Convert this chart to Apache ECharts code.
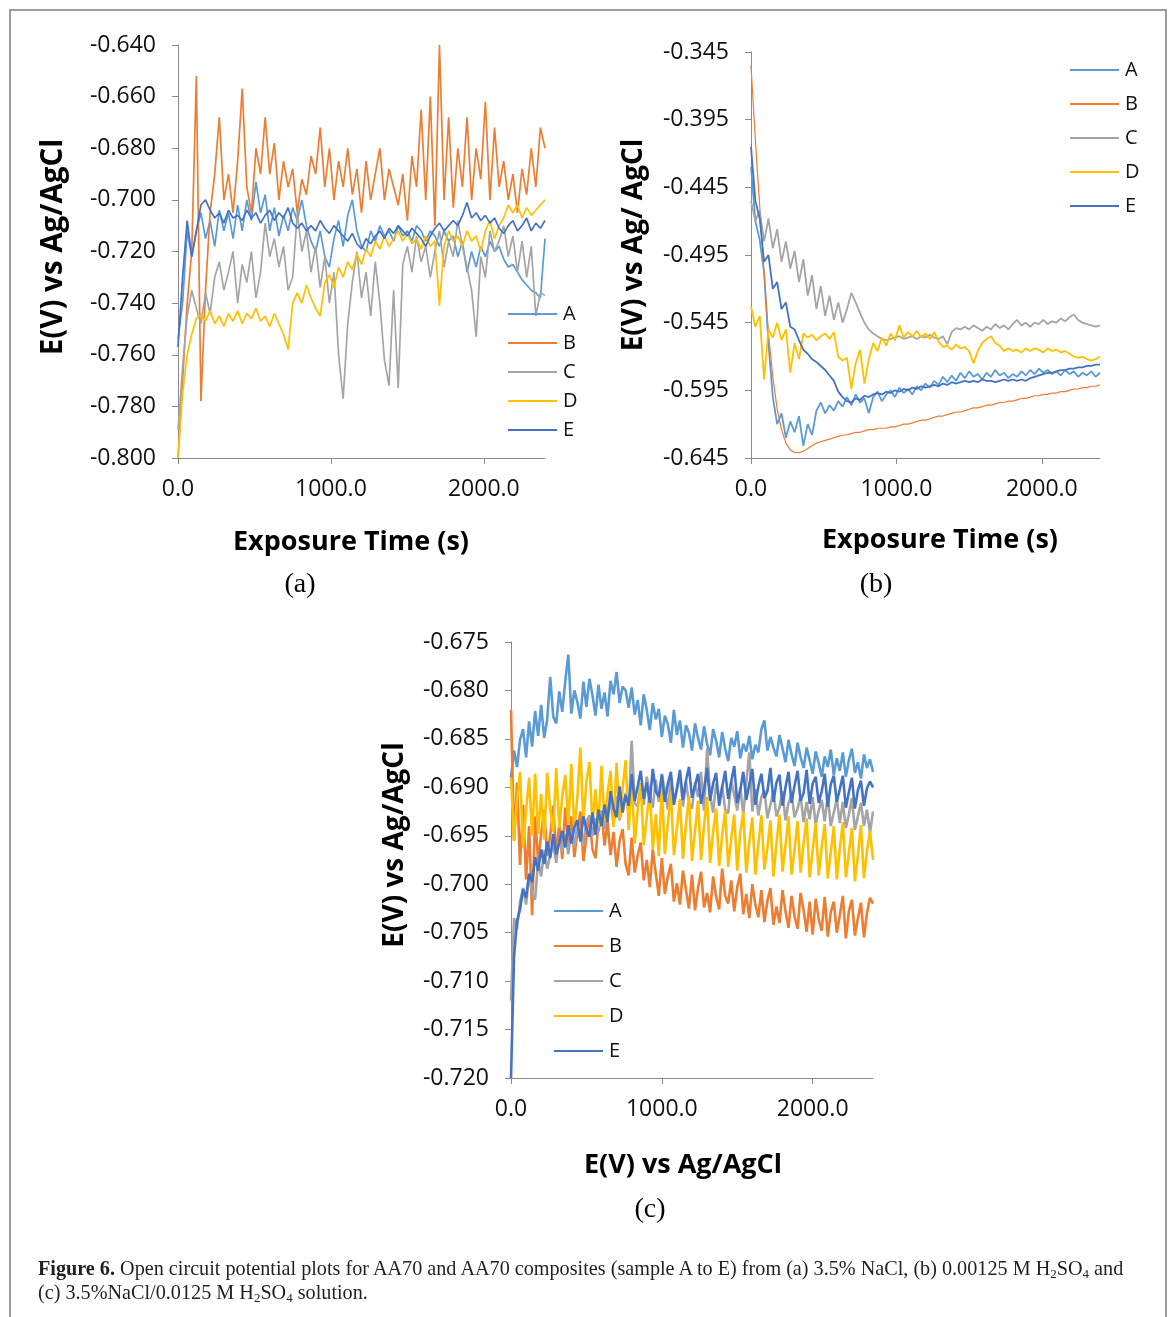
<!DOCTYPE html>
<html>
<head>
<meta charset="utf-8">
<script src="https://cdn.jsdelivr.net/npm/echarts/dist/echarts.min.js"></script>
<style>
html,body{margin:0;padding:0;background:#fff;}
#wrap{position:relative;width:1173px;height:1317px;overflow:hidden;background:#fff;}
#chart{position:absolute;left:0;top:0;width:1173px;height:1317px;}
#frame{position:absolute;left:9px;top:9px;width:1154px;height:1330px;border:2px solid #9d9d9d;border-bottom:none;pointer-events:none;}
#caption{position:absolute;left:38px;top:1256px;font-family:"Liberation Serif",serif;font-size:20.2px;line-height:24px;color:#231f20;white-space:nowrap;}
#caption sub{font-size:13px;vertical-align:-3px;line-height:0;}
</style>
</head>
<body>
<div id="wrap">
  <div id="chart"></div>
  <div id="frame"></div>
  <div id="caption"><b>Figure 6.</b> Open circuit potential plots for AA70 and AA70 composites (sample A to E) from (a) 3.5% NaCl, (b) 0.00125 M H<sub>2</sub>SO<sub>4</sub> and<br>(c) 3.5%NaCl/0.0125 M H<sub>2</sub>SO<sub>4</sub> solution.</div>
</div>
<script>
// ---------------- DATA (potentials in mV vs Ag/AgCl) ----------------
const sampleNames = ['A', 'B', 'C', 'D', 'E'];
const xTickValues = [0, 1000, 2000];          // exposure time ticks (s)
const yTicksNaCl = [-800, -780, -760, -740, -720, -700, -680, -660, -640];
const yTicksH2SO4 = [-645, -595, -545, -495, -445, -395, -345];
const yTicksMix = [-720, -715, -710, -705, -700, -695, -690, -685, -680, -675];

// (a) 3.5% NaCl, one reading every 30 s from 0 to 2400 s
const stepNaCl = 30;
const naclA = [
  -754,-740,-712,-722,-712,-705,-715,-708,-718,-704,
  -712,-705,-715,-702,-712,-700,-708,-693,-705,-698,
  -712,-703,-714,-706,-712,-703,-708,-700,-710,-716,
  -720,-712,-722,-726,-715,-708,-718,-706,-700,-712,
  -718,-720,-712,-716,-710,-714,-712,-716,-710,-714,
  -712,-716,-710,-712,-716,-712,-714,-718,-712,-716,
  -714,-722,-716,-728,-720,-726,-718,-722,-716,-720,
  -718,-723,-726,-725,-728,-731,-733,-735,-736,-738,
  -715];
const naclB = [
  -800,-770,-740,-720,-652,-778,-735,-705,-690,-668,
  -700,-690,-705,-685,-657,-695,-705,-680,-690,-668,
  -690,-678,-700,-685,-695,-688,-705,-692,-698,-683,
  -690,-672,-695,-680,-700,-685,-695,-680,-698,-688,
  -705,-685,-700,-690,-680,-700,-688,-695,-702,-690,
  -708,-683,-695,-665,-700,-660,-710,-640,-700,-668,
  -703,-680,-695,-668,-700,-680,-692,-662,-700,-672,
  -695,-685,-700,-690,-705,-688,-698,-680,-695,-672,
  -680];
const naclC = [
  -789,-765,-745,-735,-742,-748,-736,-744,-730,-724,
  -735,-728,-720,-740,-725,-732,-720,-738,-728,-709,
  -722,-715,-726,-718,-735,-730,-705,-720,-712,-728,
  -718,-734,-722,-740,-728,-760,-777,-748,-732,-720,
  -738,-728,-745,-724,-740,-762,-772,-735,-773,-725,
  -718,-728,-714,-724,-718,-730,-720,-712,-726,-716,
  -722,-708,-718,-726,-735,-753,-722,-730,-712,-720,
  -716,-710,-722,-714,-728,-716,-730,-718,-745,-736,
  -737];
const naclD = [
  -800,-775,-760,-752,-746,-744,-747,-743,-748,-745,
  -749,-744,-747,-743,-748,-744,-746,-742,-747,-745,
  -749,-744,-748,-752,-758,-740,-736,-740,-733,-738,
  -742,-745,-732,-729,-734,-726,-730,-724,-727,-721,
  -725,-719,-722,-716,-719,-714,-718,-715,-712,-716,
  -713,-717,-715,-719,-714,-718,-716,-741,-718,-712,
  -716,-714,-718,-712,-716,-714,-720,-712,-708,-715,
  -710,-707,-702,-705,-702,-707,-703,-706,-704,-702,
  -700];
const naclE = [
  -757,-730,-708,-722,-712,-702,-700,-704,-707,-705,
  -709,-704,-707,-706,-708,-704,-707,-705,-709,-706,
  -704,-708,-705,-707,-703,-709,-711,-709,-712,-710,
  -712,-708,-711,-713,-710,-712,-714,-716,-713,-717,
  -719,-715,-717,-714,-712,-715,-711,-713,-710,-712,
  -714,-711,-713,-715,-718,-714,-711,-709,-712,-710,
  -708,-710,-706,-701,-707,-705,-708,-706,-709,-707,
  -711,-713,-710,-708,-712,-710,-707,-712,-709,-711,
  -708];

// (b) 0.00125 M H2SO4, one reading every 30 s from 0 to 2400 s
const stepH2SO4 = 30;
const h2so4A = [
  -430,-470,-484,-508,-560,-600,-620,-612,-630,-618,
  -626,-614,-636,-620,-628,-610,-604,-612,-606,-610,
  -603,-607,-600,-606,-598,-604,-601,-612,-600,-596,
  -603,-598,-595,-600,-593,-597,-594,-598,-592,-595,
  -590,-593,-588,-591,-585,-589,-584,-588,-582,-586,
  -581,-585,-583,-587,-582,-585,-580,-584,-582,-586,
  -583,-585,-581,-584,-580,-583,-579,-582,-580,-583,
  -581,-584,-580,-583,-581,-585,-582,-584,-581,-585,
  -582];
const h2so4B = [
  -355,-410,-459,-508,-553,-585,-609,-624,-634,-639,
  -641,-641,-640,-638,-636,-634,-633,-632,-631,-630,
  -629,-628,-628,-627,-626,-626,-625,-624,-624,-623,
  -623,-623,-622,-622,-621,-620,-620,-619,-618,-617,
  -617,-616,-615,-614,-614,-613,-612,-611,-611,-610,
  -609,-608,-608,-607,-606,-606,-605,-604,-604,-603,
  -603,-602,-601,-601,-600,-599,-599,-598,-598,-597,
  -597,-596,-596,-595,-594,-594,-593,-593,-592,-592,
  -591];
const h2so4C = [
  -455,-470,-462,-485,-468,-490,-476,-500,-485,-505,
  -492,-515,-498,-525,-510,-535,-518,-540,-525,-543,
  -530,-545,-535,-523,-530,-538,-545,-550,-553,-555,
  -557,-558,-557,-556,-555,-557,-556,-555,-557,-555,
  -556,-554,-556,-557,-555,-561,-552,-549,-550,-548,
  -550,-547,-549,-551,-548,-550,-546,-549,-547,-550,
  -546,-543,-547,-545,-548,-545,-546,-543,-546,-544,
  -545,-542,-544,-541,-539,-543,-545,-546,-547,-548,
  -547];
const h2so4D = [
  -533,-548,-540,-587,-550,-556,-545,-558,-550,-582,
  -560,-572,-553,-556,-554,-558,-555,-553,-557,-552,
  -570,-573,-571,-594,-575,-565,-590,-572,-560,-566,
  -556,-562,-553,-558,-547,-556,-552,-555,-551,-556,
  -553,-557,-552,-559,-563,-562,-565,-561,-564,-563,
  -566,-575,-566,-560,-557,-555,-560,-562,-566,-564,
  -566,-565,-567,-564,-566,-564,-565,-567,-564,-566,
  -565,-567,-566,-568,-570,-571,-570,-572,-573,-572,
  -570];
const h2so4E = [
  -415,-455,-468,-500,-495,-520,-515,-535,-530,-548,
  -550,-558,-565,-568,-572,-574,-577,-580,-584,-588,
  -596,-600,-603,-604,-601,-602,-599,-600,-598,-597,
  -598,-596,-597,-595,-596,-594,-595,-593,-594,-592,
  -593,-592,-591,-592,-590,-591,-589,-590,-589,-588,
  -589,-588,-589,-587,-588,-588,-589,-588,-587,-588,
  -587,-588,-587,-588,-586,-585,-584,-583,-582,-582,
  -581,-580,-580,-579,-579,-578,-578,-577,-577,-576,
  -576];

// (c) 3.5% NaCl / 0.0125 M H2SO4, one reading every 20 s from 0 to 2400 s
const stepMix = 20;
const mixA = [
  -689.0,-686.2,-687.9,-685.1,-684.0,-686.9,-683.2,-685.8,-682.1,-684.7,
  -681.5,-684.9,-683.0,-678.6,-682.7,-683.4,-680.1,-682.2,-679.0,-676.3,
  -682.4,-680.0,-681.2,-682.9,-679.1,-681.7,-678.8,-680.5,-682.6,-679.4,
  -681.9,-680.2,-682.7,-679.0,-680.4,-678.1,-681.3,-679.6,-680.0,-681.8,
  -679.7,-682.5,-681.0,-683.6,-680.4,-682.0,-684.1,-681.3,-683.0,-681.9,
  -684.8,-682.6,-683.5,-685.4,-682.0,-684.6,-683.1,-685.9,-683.6,-684.4,
  -686.2,-683.4,-684.9,-686.1,-683.7,-685.5,-686.7,-684.0,-685.2,-686.9,
  -684.3,-686.0,-687.3,-684.9,-685.8,-684.2,-687.0,-685.5,-686.3,-684.7,
  -687.1,-685.6,-686.4,-684.0,-683.1,-686.2,-684.8,-685.9,-686.8,-684.6,
  -686.0,-687.4,-685.1,-686.6,-687.8,-685.4,-686.9,-688.0,-685.9,-687.2,
  -688.6,-686.3,-687.5,-688.9,-686.8,-687.9,-686.1,-688.7,-687.0,-688.3,
  -686.4,-688.9,-687.2,-686.0,-688.5,-687.4,-689.1,-686.6,-688.0,-687.1,
  -688.4];
const mixB = [
  -682.0,-695.5,-689.5,-698.0,-691.8,-699.5,-694.0,-703.2,-693.0,-697.6,
  -694.8,-692.3,-697.1,-695.0,-691.9,-696.8,-693.8,-697.4,-692.1,-695.9,
  -693.0,-697.2,-694.6,-692.5,-697.6,-695.1,-692.9,-696.4,-697.3,-693.6,
  -692.4,-696.0,-693.6,-697.0,-694.6,-698.2,-695.5,-694.3,-697.9,-699.1,
  -695.2,-698.8,-697.0,-695.7,-699.6,-697.5,-700.3,-696.4,-698.9,-701.2,
  -697.3,-701.0,-699.2,-697.9,-701.8,-699.9,-702.1,-698.6,-700.6,-702.5,
  -699.0,-702.7,-700.4,-698.7,-702.4,-700.9,-702.9,-699.2,-701.3,-702.6,
  -698.4,-701.2,-702.0,-699.6,-702.8,-700.3,-698.9,-703.1,-701.0,-703.5,
  -700.0,-702.1,-703.4,-700.6,-703.9,-701.7,-700.4,-704.2,-702.3,-704.0,
  -700.6,-702.8,-704.5,-701.2,-703.3,-704.6,-700.9,-702.7,-704.9,-701.8,
  -705.2,-701.5,-703.6,-704.8,-701.3,-705.4,-702.9,-701.8,-705.0,-703.2,
  -701.2,-705.6,-702.8,-701.6,-705.3,-703.5,-701.9,-705.5,-703.0,-701.4,
  -702.0];
const mixC = [
  -712.0,-703.5,-704.6,-701.8,-700.4,-702.1,-699.0,-700.8,-701.6,-697.6,
  -699.2,-696.5,-698.4,-697.0,-695.9,-697.8,-695.2,-696.6,-694.8,-696.9,
  -694.5,-696.2,-693.8,-695.4,-695.8,-693.5,-692.9,-695.0,-693.2,-694.6,
  -692.6,-694.3,-692.1,-691.5,-693.8,-690.9,-693.4,-692.0,-690.6,-692.5,
  -685.2,-691.6,-692.0,-689.6,-691.8,-688.9,-690.6,-692.1,-689.2,-691.5,
  -688.6,-690.4,-692.3,-689.0,-691.7,-690.2,-688.7,-692.0,-689.4,-691.6,
  -692.2,-689.5,-691.0,-688.4,-692.4,-686.0,-690.8,-692.6,-689.6,-691.3,
  -689.9,-692.3,-692.7,-689.3,-690.8,-692.4,-690.0,-692.8,-689.6,-686.4,
  -692.5,-690.2,-692.9,-691.0,-690.3,-693.2,-691.8,-690.5,-693.0,-692.1,
  -690.4,-693.4,-691.6,-690.7,-693.1,-692.2,-690.9,-693.6,-691.5,-693.3,
  -691.0,-693.8,-692.4,-691.3,-693.5,-690.8,-694.0,-692.6,-691.2,-693.7,
  -691.5,-694.2,-692.8,-691.1,-694.4,-693.0,-691.6,-694.0,-692.3,-694.7,
  -692.5];
const mixD = [
  -689.0,-695.5,-691.2,-688.4,-696.2,-692.4,-689.0,-695.0,-688.6,-694.8,
  -690.7,-695.4,-688.5,-692.3,-694.6,-688.0,-694.2,-690.9,-688.7,-693.9,
  -687.6,-694.5,-691.0,-685.9,-693.6,-689.4,-687.4,-693.8,-690.2,-694.0,
  -687.8,-693.5,-690.6,-688.3,-694.1,-687.5,-693.2,-690.1,-687.2,-694.4,
  -689.3,-695.8,-692.4,-689.6,-696.0,-693.1,-690.2,-696.4,-692.8,-697.1,
  -690.0,-696.9,-693.7,-690.6,-697.0,-694.2,-691.2,-697.4,-693.8,-690.9,
  -697.6,-694.5,-691.4,-697.5,-693.9,-691.0,-697.8,-694.6,-692.2,-698.1,
  -695.0,-692.4,-698.2,-695.3,-692.8,-698.6,-694.7,-692.5,-698.8,-695.6,
  -693.1,-699.0,-695.9,-692.9,-698.5,-696.2,-693.4,-699.2,-695.8,-692.8,
  -698.7,-696.0,-693.0,-699.0,-696.4,-693.5,-698.8,-695.7,-693.2,-699.3,
  -696.5,-693.7,-699.1,-696.1,-693.8,-699.4,-696.7,-694.0,-699.5,-696.3,
  -693.6,-699.3,-696.8,-694.2,-699.7,-697.0,-693.9,-699.4,-696.6,-694.5,
  -697.5];
const mixE = [
  -720.0,-707.5,-703.8,-702.6,-700.5,-701.4,-698.9,-699.8,-697.2,-698.6,
  -696.4,-697.9,-695.6,-697.3,-694.8,-696.9,-695.7,-694.5,-696.2,-693.9,
  -695.8,-694.1,-693.4,-695.6,-693.0,-694.3,-695.1,-692.6,-694.9,-692.3,
  -694.0,-691.8,-693.6,-690.4,-692.2,-693.1,-689.9,-692.6,-690.8,-691.9,
  -688.6,-691.4,-689.9,-688.3,-691.2,-689.5,-691.6,-688.1,-690.4,-691.0,
  -688.7,-691.5,-689.6,-688.4,-691.8,-690.1,-688.2,-691.3,-689.3,-687.9,
  -691.1,-689.8,-688.6,-691.7,-690.2,-688.0,-691.4,-689.6,-688.5,-691.9,
  -690.0,-688.3,-691.2,-689.4,-687.8,-691.6,-690.3,-688.4,-691.3,-689.7,
  -688.1,-691.8,-689.9,-688.6,-691.1,-690.4,-688.0,-691.5,-689.5,-688.7,
  -691.9,-690.0,-688.4,-691.6,-689.8,-688.3,-691.4,-690.6,-688.2,-691.7,
  -689.6,-688.9,-691.6,-690.4,-688.6,-692.0,-689.7,-688.8,-691.5,-690.2,
  -688.8,-692.1,-690.5,-689.0,-692.2,-690.3,-689.3,-691.9,-690.1,-689.4,
  -690.0];

// ---------------- STYLE ----------------
const colors = {A: '#5B9BD5', B: '#ED7D31', C: '#A5A5A5', D: '#FFC000', E: '#4472C4'};
const SANS = '"Open Sans", "Liberation Sans", sans-serif';
const SERIF = '"Liberation Serif", "DejaVu Serif", serif';
const axisGrey = '#8a8a8a';

function timesFor(values, step) { return values.map((_, i) => i * step); }

function lineSeries(name, values, step, gridIndex, width) {
  const t = timesFor(values, step);
  return {
    type: 'line', name: name,
    xAxisIndex: gridIndex, yAxisIndex: gridIndex,
    data: values.map((v, i) => [t[i], v]),
    showSymbol: false, symbol: 'none',
    lineStyle: {color: colors[name], width: width, join: 'bevel'},
    itemStyle: {color: colors[name]},
    animation: false, z: 2
  };
}

function xAxisFor(gridIndex) {
  return {
    type: 'value', gridIndex: gridIndex, min: 0, max: 2400,
    axisLine: {show: true, onZero: false, lineStyle: {color: axisGrey, width: 1}},
    axisTick: {show: true, inside: false, length: 6, customValues: xTickValues, lineStyle: {color: axisGrey}},
    axisLabel: {customValues: xTickValues, formatter: v => v.toFixed(1), fontSize: 23, fontFamily: SANS, color: '#111', margin: 20},
    splitLine: {show: false}
  };
}
function yAxisFor(gridIndex, ticks) {
  return {
    type: 'value', gridIndex: gridIndex, min: ticks[0], max: ticks[ticks.length - 1],
    axisLine: {show: true, onZero: false, lineStyle: {color: axisGrey, width: 1}},
    axisTick: {show: true, inside: false, length: 6, customValues: ticks, lineStyle: {color: axisGrey}},
    axisLabel: {customValues: ticks, formatter: v => (v / 1000).toFixed(3), fontSize: 23, fontFamily: SANS, color: '#111', margin: 22},
    splitLine: {show: false}
  };
}
function legendAt(left, top, gap) {
  return {
    data: sampleNames, orient: 'vertical', left: left, top: top, padding: 0,
    icon: 'rect', itemWidth: 49, itemHeight: 2, itemGap: gap, selectedMode: false,
    textStyle: {fontSize: 20, fontFamily: SANS, color: '#111', lineHeight: 20, padding: [0, 0, 0, 1]}
  };
}
function txt(text, x, y, font, size, weight, rot) {
  return {
    type: 'text', x: x, y: y, rotation: rot || 0, silent: true,
    style: {text: text, fontFamily: font, fontSize: size, fontWeight: weight, fill: '#000', align: 'center', verticalAlign: 'middle'}
  };
}

const series = [];
const sets = [
  {g: 0, step: stepNaCl, w: 1.7, data: {A: naclA, B: naclB, C: naclC, D: naclD, E: naclE}},
  {g: 1, step: stepH2SO4, w: 1.8, data: {A: h2so4A, B: h2so4B, C: h2so4C, D: h2so4D, E: h2so4E}},
  {g: 2, step: stepMix, w: 2.6, data: {A: mixA, B: mixB, C: mixC, D: mixD, E: mixE}}
];
sets.forEach(s => sampleNames.forEach(n => {
  const w = (s.g === 1 && n === 'B') ? 1.2 : s.w;
  series.push(lineSeries(n, s.data[n], s.step, s.g, w));
}));

const chart = echarts.init(document.getElementById('chart'), null, {renderer: 'canvas'});
chart.setOption({
  backgroundColor: '#ffffff',
  animation: false,
  grid: [
    {left: 178, top: 45, width: 367, height: 413},
    {left: 751, top: 52, width: 349, height: 406},
    {left: 511, top: 642, width: 362, height: 436}
  ],
  xAxis: [xAxisFor(0), xAxisFor(1), xAxisFor(2)],
  yAxis: [yAxisFor(0, yTicksNaCl), yAxisFor(1, yTicksH2SO4), yAxisFor(2, yTicksMix)],
  legend: [legendAt(508, 304, 9), legendAt(1070, 60, 14), legendAt(554, 901, 15)],
  series: series,
  graphic: [
    txt('E(V) vs Ag/AgCl', 54, 247, SANS, 29.5, 'bold', Math.PI / 2),
    txt('Exposure Time (s)', 351, 542, SANS, 27, 'bold'),
    txt('(a)', 300, 585, SERIF, 28, 'normal'),
    txt('E(V) vs Ag/ AgCl', 634, 245, SANS, 28, 'bold', Math.PI / 2),
    txt('Exposure Time (s)', 940, 540, SANS, 27, 'bold'),
    txt('(b)', 876, 585, SERIF, 28, 'normal'),
    txt('E(V) vs Ag/AgCl', 395, 845, SANS, 28, 'bold', Math.PI / 2),
    txt('E(V) vs Ag/AgCl', 683, 1165, SANS, 27, 'bold'),
    txt('(c)', 650, 1210, SERIF, 28, 'normal')
  ]
});
</script>
</body>
</html>
